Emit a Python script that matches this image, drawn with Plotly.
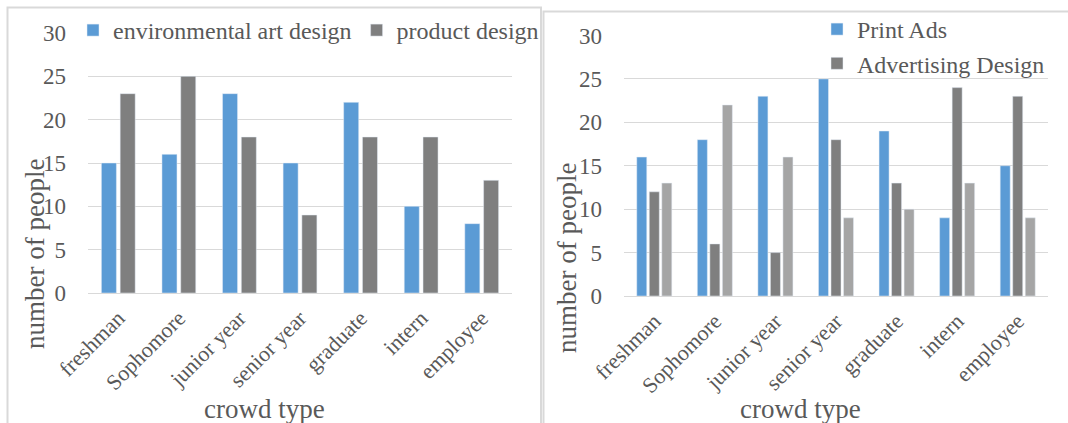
import plotly.graph_objects as go

categories = ["freshman", "Sophomore", "junior year", "senior year", "graduate", "intern", "employee"]

env_art = [15, 16, 23, 15, 22, 10, 8]
product = [23, 25, 18, 9, 18, 18, 13]

print_ads = [16, 18, 23, 25, 19, 9, 15]
adv_design = [12, 6, 5, 18, 13, 24, 23]
third_series = [13, 22, 16, 9, 10, 13, 9]

BLUE = "#5B9BD5"
DARK = "#7F7F7F"
LIGHT = "#A5A5A5"
GRID = "#D9D9D9"
TXT = "#595959"
FONT = "Liberation Serif"

W, H = 1068, 423

def px(x):
    return x / W

def py(y):
    return 1 - y / H

fig = go.Figure()

fig.add_trace(go.Bar(x=categories, y=env_art, name="environmental art design",
                     marker=dict(color=BLUE), xaxis="x", yaxis="y", legend="legend",
                     offsetgroup="a"))
fig.add_trace(go.Bar(x=categories, y=product, name="product design",
                     marker=dict(color=DARK), xaxis="x", yaxis="y", legend="legend",
                     offsetgroup="b"))

fig.add_trace(go.Bar(x=categories, y=print_ads, name="Print Ads",
                     marker=dict(color=BLUE), xaxis="x2", yaxis="y2", legend="legend2",
                     offsetgroup="c"))
fig.add_trace(go.Bar(x=categories, y=adv_design, name="Advertising Design",
                     marker=dict(color=DARK), xaxis="x2", yaxis="y2", legend="legend2",
                     offsetgroup="d"))
fig.add_trace(go.Bar(x=categories, y=third_series, name="",
                     marker=dict(color=LIGHT), xaxis="x2", yaxis="y2", showlegend=False,
                     offsetgroup="e"))

yax = dict(range=[0, 30], dtick=5, showgrid=True, gridcolor=GRID, gridwidth=1.3,
           zeroline=True, zerolinecolor=GRID, zerolinewidth=1.3, showline=False,
           ticks="", tickfont=dict(family=FONT, size=23, color=TXT),
           ticklabelstandoff=21, fixedrange=True, automargin=False)
xax = dict(tickangle=-45, showgrid=False, zeroline=False, showline=False, ticks="",
           tickfont=dict(family=FONT, size=22, color=TXT), ticklabelstandoff=7,
           fixedrange=True, automargin=False)

fig.update_layout(
    width=W, height=H,
    margin=dict(l=0, r=0, t=0, b=0, autoexpand=False),
    paper_bgcolor="white", plot_bgcolor="white",
    barmode="group", bargap=0.38, bargroupgap=0.2,
    font=dict(family=FONT, color=TXT),
    xaxis=dict(domain=[px(88), px(512)], anchor="y", **xax),
    yaxis=dict(domain=[py(293), py(33)], anchor="x", **yax),
    xaxis2=dict(domain=[px(624), px(1048)], anchor="y2", **xax),
    yaxis2=dict(domain=[py(296), py(35.5)], anchor="x2", **yax),
    legend=dict(orientation="h", x=px(73), y=py(8), xanchor="left", yanchor="top",
                font=dict(family=FONT, size=24, color=TXT), bgcolor="rgba(0,0,0,0)",
                itemwidth=30, tracegroupgap=0),
    legend2=dict(orientation="v", x=px(817), y=py(7), xanchor="left", yanchor="top",
                 font=dict(family=FONT, size=24, color=TXT), bgcolor="rgba(0,0,0,0)",
                 itemwidth=30, tracegroupgap=0),
    showlegend=True,
)

# panel borders
fig.add_shape(type="rect", xref="paper", yref="paper",
              x0=px(7.5), x1=px(541), y0=-0.1, y1=py(7.5),
              line=dict(color=GRID, width=2), fillcolor="rgba(0,0,0,0)", layer="below")
fig.add_shape(type="rect", xref="paper", yref="paper",
              x0=px(543.5), x1=1.1, y0=-0.1, y1=py(11.5),
              line=dict(color=GRID, width=2), fillcolor="rgba(0,0,0,0)", layer="below")

title_font = dict(family=FONT, size=27, color=TXT)
fig.add_annotation(text="number of people", xref="paper", yref="paper",
                   x=px(35), y=py(254), textangle=-90, showarrow=False,
                   font=title_font, xanchor="center", yanchor="middle")
fig.add_annotation(text="number of people", xref="paper", yref="paper",
                   x=px(567), y=py(258), textangle=-90, showarrow=False,
                   font=title_font, xanchor="center", yanchor="middle")
fig.add_annotation(text="crowd type", xref="paper", yref="paper",
                   x=px(264), y=py(409), showarrow=False,
                   font=title_font, xanchor="center", yanchor="middle")
fig.add_annotation(text="crowd type", xref="paper", yref="paper",
                   x=px(800), y=py(409), showarrow=False,
                   font=title_font, xanchor="center", yanchor="middle")

fig.write_html("out.html", config=dict(displayModeBar=False))
